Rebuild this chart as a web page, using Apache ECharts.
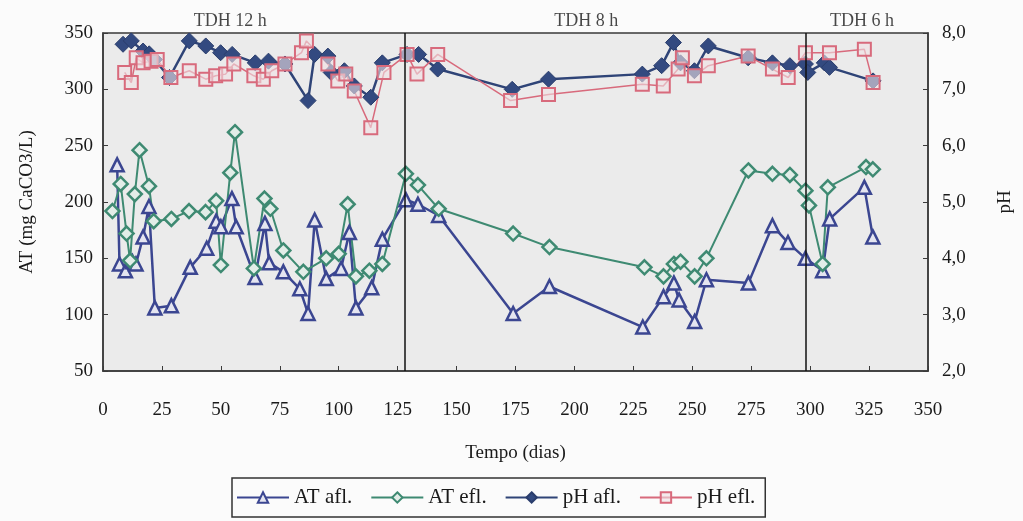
<!DOCTYPE html>
<html>
<head>
<meta charset="utf-8">
<script src="https://cdn.jsdelivr.net/npm/echarts@6/dist/echarts.min.js"></script>
<style>
html,body{margin:0;padding:0;background:#fbfbfb;}
#c{width:1023px;height:521px;}
</style>
</head>
<body>
<div id="c"></div>
<script>
// ---- data ----
const xTicks = [0,25,50,75,100,125,150,175,200,225,250,275,300,325,350];
const atAflDays = [6,7,9.5,12.5,14,17,19.5,22,29,37,44,48,50,54.7,56.5,64.5,68.7,70.5,76.5,83.5,87,89.8,94.7,101,104.5,107.3,114,118.5,128.5,133.6,142.4,174,189.4,229,237.8,242.2,244.4,251,256,273.8,284,290.6,298,305.3,308.3,323,326.6];
const atAflVals = [233,145,139,147,145,169,196,106,108,142,159,183,178,203,178,133,181,146,138,123,101,184,132,141,173,106,124,167,202,198,188,101,125,89,116,128,113,94,131,128,179,164,150,139,185,213,169];
const atEflDays = [4,7.5,10,11.5,13.5,15.5,19.5,21.5,29,36.5,43.5,48,50,54,56,64,68.5,71,76.5,85,94.7,100,103.8,107.3,113,118.5,128.5,133.6,142.4,174,189.4,229.7,237.8,242.2,245,251,256,273.8,284,291.4,298,299.5,305.3,307.5,323.7,326.6];
const atEflVals = [192,216,172,148,207,246,214,183,185,192,191,201,144,226,262,141,203,194,157,138,150,154,198,134,139,145,225,215,194,172,160,142,134,145,147,134,150,228,225,224,210,197,145,213,231,229];
const phAflDays = [8.5,12,17,19.6,21.8,28.2,36.6,43.6,49.9,54.8,64.6,70.2,77.2,87,89.8,95.4,96.8,102.4,106.6,113.6,118.5,129,133.9,142,173.6,189,228.8,237,242,245,250.9,256.8,273.7,284,291.4,298,299,306,308.2,326.7];
const phAflVals = [7.80,7.86,7.68,7.63,7.53,7.21,7.86,7.77,7.65,7.62,7.47,7.50,7.45,6.80,7.62,7.59,7.30,7.33,7.06,6.86,7.47,7.62,7.62,7.36,7.00,7.18,7.27,7.42,7.83,7.47,7.33,7.77,7.56,7.47,7.42,7.45,7.30,7.47,7.39,7.15];
const phEflDays = [9.2,12,14.1,17,20.4,23,28.8,36.6,43.6,47.8,52,55.5,64,68,71.6,77.2,84.2,86.3,95.4,99.6,103,106.6,113.6,119.2,129,133.2,142,172.9,189,228.8,237.7,244,245.8,250.9,256.8,273.7,284,290.7,298,308.2,323,326.7];
const phEflVals = [7.30,7.12,7.56,7.47,7.50,7.53,7.21,7.33,7.18,7.24,7.27,7.45,7.24,7.18,7.33,7.45,7.65,7.86,7.45,7.15,7.27,6.97,6.32,7.30,7.62,7.27,7.62,6.80,6.91,7.09,7.06,7.36,7.56,7.24,7.42,7.59,7.36,7.21,7.65,7.65,7.71,7.12];
const phaseBounds = [128, 298];
const phaseNames = ['TDH 12 h','TDH 8 h','TDH 6 h'];
const phaseLabelDays = [54, 205, 322];
const seriesNames = ['AT afl.','AT efl.','pH afl.','pH efl.'];

const zip = (a,b) => a.map((d,i)=>[d,b[i]]);
const SERIF = "'Liberation Serif','DejaVu Serif',serif";

const chart = echarts.init(document.getElementById('c'));
chart.setOption({
  backgroundColor:'#fbfbfb',
  animation:false,
  textStyle:{fontFamily:SERIF,color:'#1a1a1a'},
  grid:{left:103,right:86,top:33,bottom:150,show:true,backgroundColor:'#ebebeb',borderColor:'#3a3a3a',borderWidth:1.5},
  legend:{
    data:seriesNames,
    bottom:4,left:232,
    borderColor:'#333',borderWidth:1.5,borderRadius:0,
    padding:[9,10,9,4],
    itemWidth:52,itemHeight:13,itemGap:18,
    textStyle:{fontFamily:SERIF,fontSize:21,color:'#1a1a1a'}
  },
  xAxis:{
    type:'value',min:xTicks[0],max:xTicks[xTicks.length-1],interval:25,
    name:'Tempo (dias)',nameLocation:'middle',nameGap:73,
    nameTextStyle:{fontFamily:SERIF,fontSize:19,color:'#1a1a1a'},
    axisLine:{show:true,lineStyle:{color:'#3a3a3a',width:1.5}},
    axisTick:{show:true,inside:true,length:5,lineStyle:{color:'#3a3a3a'}},
    axisLabel:{margin:30,fontFamily:SERIF,fontSize:19,color:'#1a1a1a'},
    splitLine:{show:false}
  },
  yAxis:[{
    type:'value',min:50,max:350,interval:50,position:'left',
    name:'AT (mg CaCO3/L)',nameLocation:'middle',nameGap:66,nameRotate:90,
    nameTextStyle:{fontFamily:SERIF,fontSize:19,color:'#1a1a1a'},
    axisLine:{show:true,lineStyle:{color:'#3a3a3a',width:1.5}},
    axisTick:{show:true,inside:true,length:5,lineStyle:{color:'#3a3a3a'}},
    axisLabel:{margin:10,fontFamily:SERIF,fontSize:19,color:'#1a1a1a'},
    splitLine:{show:false}
  },{
    type:'value',min:2,max:8,interval:1,position:'right',
    name:'pH',nameLocation:'middle',nameGap:68,nameRotate:90,
    nameTextStyle:{fontFamily:SERIF,fontSize:19,color:'#1a1a1a'},
    axisLine:{show:true,lineStyle:{color:'#3a3a3a',width:1.5}},
    axisTick:{show:true,inside:true,length:5,lineStyle:{color:'#3a3a3a'}},
    axisLabel:{margin:14,fontFamily:SERIF,fontSize:19,color:'#1a1a1a',
      formatter:v=>v.toFixed(1).replace('.',',')},
    splitLine:{show:false}
  }],
  series:[
    {name:seriesNames[0],type:'line',yAxisIndex:0,data:zip(atAflDays,atAflVals),
     symbol:'triangle',symbolSize:13,
     lineStyle:{color:'#3b4691',width:2.5},
     itemStyle:{color:'#e4e5f0',borderColor:'#3b4691',borderWidth:2.5},
     markLine:{silent:true,symbol:'none',label:{show:false},
       lineStyle:{color:'#111',width:1.5,type:'solid'},
       data:phaseBounds.map(d=>({xAxis:d}))}
    },
    {name:seriesNames[1],type:'line',yAxisIndex:0,data:zip(atEflDays,atEflVals),
     symbol:'diamond',symbolSize:14,
     lineStyle:{color:'#3e8a72',width:2},
     itemStyle:{color:'#e2ede8',borderColor:'#3e8a72',borderWidth:2.5}
    },
    {name:seriesNames[2],type:'line',yAxisIndex:1,data:zip(phAflDays,phAflVals),
     symbol:'diamond',symbolSize:16,
     lineStyle:{color:'#2f4477',width:2.5},
     itemStyle:{color:'#334a80',borderColor:'#2a3d6c',borderWidth:1}
    },
    {name:seriesNames[3],type:'line',yAxisIndex:1,data:zip(phEflDays,phEflVals),
     symbol:'rect',symbolSize:13,
     lineStyle:{color:'#d86a7c',width:1.5},
     itemStyle:{color:'rgba(240,225,228,0.6)',borderColor:'#d86a7c',borderWidth:2}
    },
    {name:'phases',type:'scatter',yAxisIndex:0,silent:true,
     data:phaseLabelDays.map((d,i)=>({value:[d,350],name:phaseNames[i]})),
     symbolSize:0,
     label:{show:true,position:'top',distance:3,formatter:p=>p.name,
       fontFamily:SERIF,fontSize:18,color:'#1a1a1a'}
    }
  ]
});
</script>
</body>
</html>
